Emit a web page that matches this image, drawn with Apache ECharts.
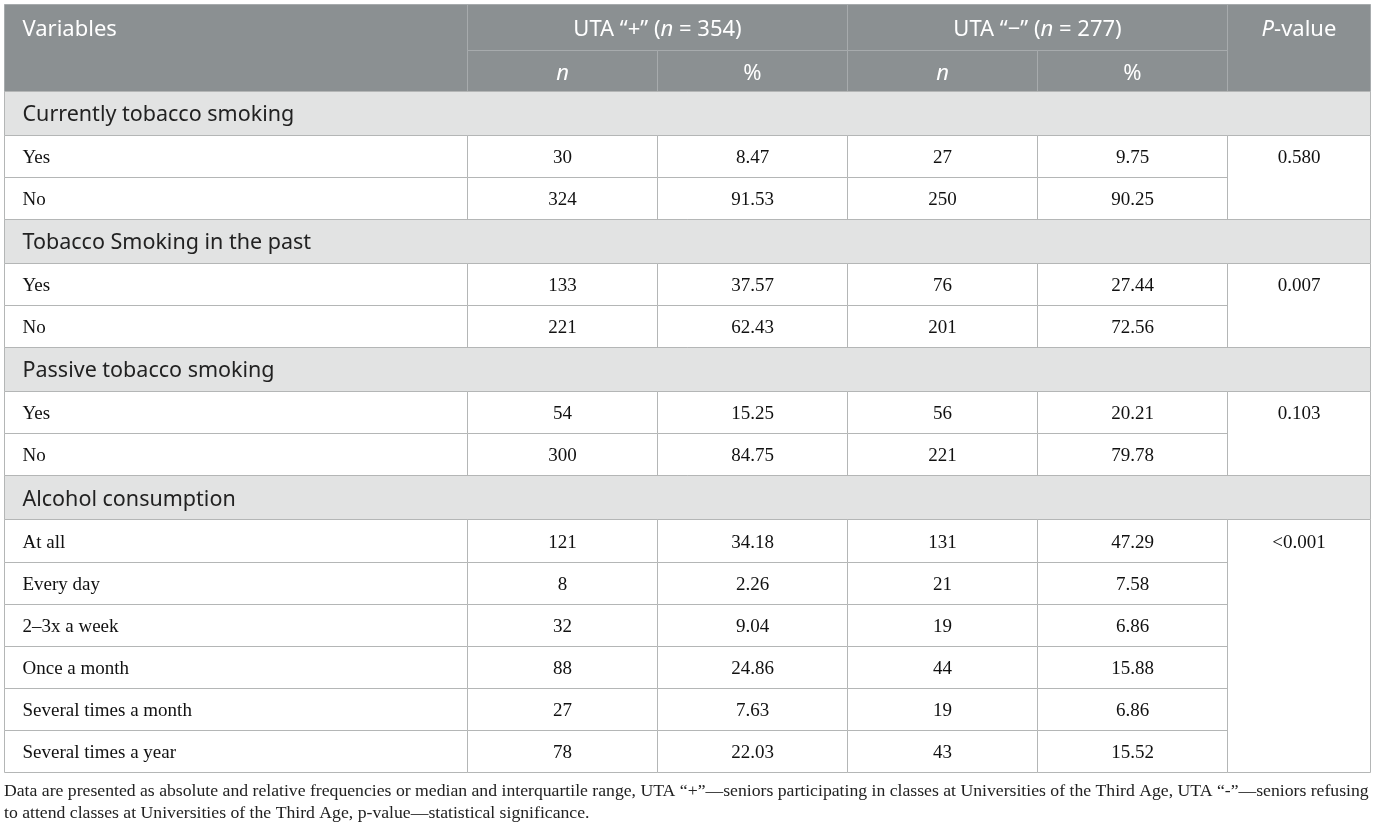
<!DOCTYPE html>
<html>
<head>
<meta charset="utf-8">
<script src="https://cdn.jsdelivr.net/npm/echarts@6/dist/echarts.min.js"></script>
<style>
html,body{margin:0;padding:0;background:#fff;}
#main{width:1375px;height:830px;}
</style>
</head>
<body>
<div id="main"></div>
<script>
// ---------------- DATA ----------------
const columnHeaders = ['Variables', 'UTA “+” (n = 354)', 'UTA “−” (n = 277)', 'P-value'];
const subHeaders = ['n', '%', 'n', '%'];
const groups = ['Currently tobacco smoking', 'Tobacco Smoking in the past', 'Passive tobacco smoking', 'Alcohol consumption'];
const groupRows = [
  ['Yes', 'No'],
  ['Yes', 'No'],
  ['Yes', 'No'],
  ['At all', 'Every day', '2–3x a week', 'Once a month', 'Several times a month', 'Several times a year']
];
const utaPlusN = [[30, 324], [133, 221], [54, 300], [121, 8, 32, 88, 27, 78]];
const utaPlusPct = [[8.47, 91.53], [37.57, 62.43], [15.25, 84.75], [34.18, 2.26, 9.04, 24.86, 7.63, 22.03]];
const utaMinusN = [[27, 250], [76, 201], [56, 221], [131, 21, 19, 44, 19, 43]];
const utaMinusPct = [[9.75, 90.25], [27.44, 72.56], [20.21, 79.78], [47.29, 7.58, 6.86, 15.88, 6.86, 15.52]];
const pValues = ['0.580', '0.007', '0.103', '<0.001'];
const footnote = [
  'Data are presented as absolute and relative frequencies or median and interquartile range, UTA “+”—seniors participating in classes at Universities of the Third Age, UTA “-”—seniors refusing',
  'to attend classes at Universities of the Third Age, p-value—statistical significance.'
];

// ---------------- LAYOUT (not data) ----------------
const colWeights = [463, 190, 190, 190, 190, 143];
const headerHeights = [46, 41];
const sectionHeight = 44;
const rowHeight = 42.08;

const colEdges = [0];
colWeights.forEach(w => colEdges.push(colEdges[colEdges.length - 1] + w));
const totalW = colEdges[colEdges.length - 1];

const cells = [];
let y = 0;
function addCell(c0, c1, y0, y1, ty, kind, text, align) {
  cells.push({ value: [colEdges[c0], y0, colEdges[c1], y1, ty], kind: kind, text: text, align: align || 'center' });
}
// header
const h0 = headerHeights[0], h1 = headerHeights[1];
addCell(0, 1, 0, h0 + h1, h0 / 2, 'header', columnHeaders[0], 'left');
addCell(1, 3, 0, h0, h0 / 2, 'header', columnHeaders[1]);
addCell(3, 5, 0, h0, h0 / 2, 'header', columnHeaders[2]);
addCell(5, 6, 0, h0 + h1, h0 / 2, 'header', columnHeaders[3]);
subHeaders.forEach((s, i) => addCell(1 + i, 2 + i, h0, h0 + h1, h0 + h1 / 2, 'header', s));
y = h0 + h1;

groups.forEach((g, gi) => {
  addCell(0, 6, y, y + sectionHeight, y + sectionHeight / 2, 'section', g, 'left');
  y += sectionHeight;
  const gStart = y;
  groupRows[gi].forEach((r, ri) => {
    const yy = y, yc = y + rowHeight / 2;
    addCell(0, 1, yy, yy + rowHeight, yc, 'body', r, 'left');
    addCell(1, 2, yy, yy + rowHeight, yc, 'body', String(utaPlusN[gi][ri]));
    addCell(2, 3, yy, yy + rowHeight, yc, 'body', utaPlusPct[gi][ri].toFixed(2));
    addCell(3, 4, yy, yy + rowHeight, yc, 'body', String(utaMinusN[gi][ri]));
    addCell(4, 5, yy, yy + rowHeight, yc, 'body', utaMinusPct[gi][ri].toFixed(2));
    y += rowHeight;
  });
  addCell(5, 6, gStart, y, gStart + rowHeight / 2, 'body', pValues[gi]);
});
const totalH = y;

const styles = {
  header: { bg: '#8b9092', border: '#a7abad', color: '#ffffff', family: '"Noto Sans", sans-serif', size: 22, dy: 3 },
  section: { bg: '#e2e3e3', border: '#b4b6b6', color: '#222222', family: '"Noto Sans", sans-serif', size: 21.5, dy: 2 },
  body: { bg: '#ffffff', border: '#b4b6b6', color: '#111111', family: '"Liberation Serif", serif', size: 19, dy: 2 }
};

function richText(text) {
  // italic "n" and "P" in header labels
  if (text === 'n') return '{i|n}';
  if (text === 'P-value') return '{i|P}{r|-value}';
  const m = text.match(/^(.*\()n( = .*)$/);
  if (m) return '{r|' + m[1] + '}{i|n}{r|' + m[2] + '}';
  return '{r|' + text + '}';
}

function renderItem(params, api) {
  const c = cells[params.dataIndex];
  const p0 = api.coord([api.value(0), api.value(1)]);
  const p1 = api.coord([api.value(2), api.value(3)]);
  const ty = api.coord([0, api.value(4)])[1];
  const x0 = Math.round(p0[0]) + 0.5, y0 = Math.round(p0[1]) + 0.5;
  const x1 = Math.round(p1[0]) + 0.5, y1 = Math.round(p1[1]) + 0.5;
  const st = styles[c.kind];
  const children = [{
    type: 'rect',
    shape: { x: x0, y: y0, width: x1 - x0, height: y1 - y0 },
    style: { fill: st.bg, stroke: st.border, lineWidth: 1 }
  }];
  if (c.text) {
    const base = { fill: st.color, fontFamily: st.family, fontSize: st.size };
    const isHeader = c.kind === 'header';
    children.push({
      type: 'text',
      z2: 10,
      style: {
        text: isHeader ? richText(c.text) : c.text,
        x: c.align === 'left' ? x0 + 18 : (x0 + x1) / 2,
        y: ty + st.dy,
        align: c.align,
        verticalAlign: 'middle',
        fill: st.color,
        fontFamily: st.family,
        fontSize: st.size,
        rich: isHeader ? {
          r: Object.assign({}, base),
          i: Object.assign({ fontStyle: 'italic' }, base)
        } : undefined
      }
    });
  }
  return { type: 'group', children: children };
}

const chart = echarts.init(document.getElementById('main'), null, { renderer: 'canvas' });
chart.setOption({
  animation: false,
  title: {
    text: footnote.join('\n'),
    left: 4,
    top: 780,
    padding: 0,
    textStyle: { fontFamily: '"Liberation Serif", serif', fontSize: 17.7, fontWeight: 'normal', color: '#222222', lineHeight: 22 }
  },
  grid: { left: 4, top: 4, width: totalW, height: totalH, containLabel: false },
  xAxis: { type: 'value', min: 0, max: totalW, show: false },
  yAxis: { type: 'value', min: 0, max: totalH, inverse: true, show: false },
  series: [{
    type: 'custom',
    coordinateSystem: 'cartesian2d',
    clip: false,
    encode: { x: [0, 2], y: [1, 3] },
    data: cells.map(c => c.value),
    renderItem: renderItem,
    silent: true
  }]
});
</script>
</body>
</html>
